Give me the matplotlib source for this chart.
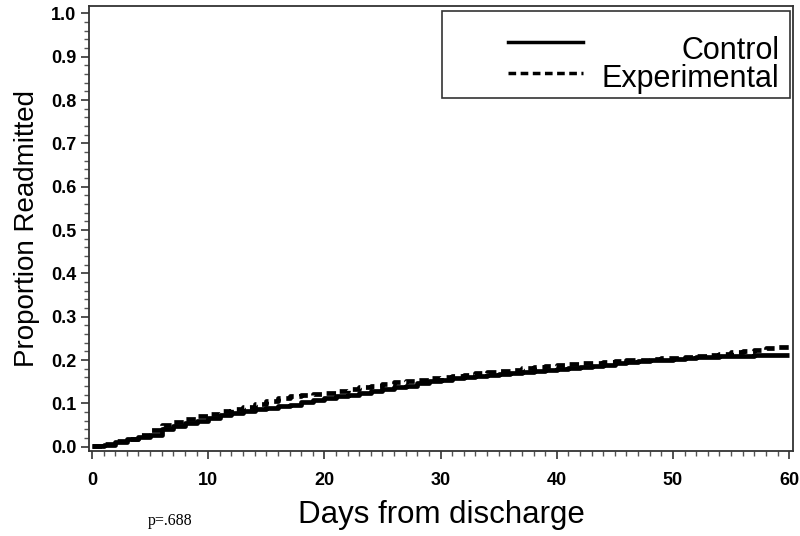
import matplotlib
matplotlib.use("Agg")
import matplotlib.pyplot as plt
from matplotlib.ticker import MultipleLocator, FormatStrFormatter
from matplotlib.patches import Rectangle
from matplotlib.lines import Line2D

days = list(range(0, 61))
control = [0.002, 0.005, 0.010, 0.017, 0.022, 0.028, 0.040, 0.048, 0.054, 0.060,
           0.067, 0.072, 0.077, 0.082, 0.086, 0.090, 0.093, 0.096, 0.102, 0.107,
           0.112, 0.116, 0.119, 0.123, 0.128, 0.133, 0.137, 0.141, 0.146, 0.151,
           0.155, 0.158, 0.160, 0.163, 0.166, 0.168, 0.171, 0.173, 0.175, 0.177,
           0.179, 0.181, 0.183, 0.186, 0.189, 0.192, 0.195, 0.197, 0.199, 0.201,
           0.203, 0.205, 0.207, 0.208, 0.209, 0.210, 0.210, 0.211, 0.211, 0.212,
           0.212]
experimental = [0.002, 0.006, 0.012, 0.018, 0.026, 0.038, 0.050, 0.058, 0.063, 0.070,
                0.076, 0.083, 0.088, 0.092, 0.098, 0.105, 0.112, 0.117, 0.120, 0.122,
                0.124, 0.128, 0.132, 0.137, 0.141, 0.145, 0.149, 0.152, 0.155, 0.158,
                0.160, 0.163, 0.166, 0.169, 0.172, 0.175, 0.178, 0.181, 0.184, 0.186,
                0.188, 0.190, 0.192, 0.194, 0.196, 0.198, 0.200, 0.201, 0.203, 0.204,
                0.205, 0.207, 0.209, 0.212, 0.215, 0.218, 0.221, 0.224, 0.227, 0.229,
                0.231]
series_labels = ["Control", "Experimental"]
p_text = "p=.688"
x_label = "Days from discharge"
y_label = "Proportion Readmitted"

plt.rcParams['font.family'] = ['Liberation Sans', 'DejaVu Sans']

fig = plt.figure(figsize=(8.0, 5.36), dpi=100)
ax = fig.add_axes([89/800, 1-451/536, 704/800, 445/536])

ax.step(days, control, where='post', color='black', lw=3.4, solid_capstyle='butt')
ax.step(days, experimental, where='post', color='black', lw=3.4, linestyle=(0, (2.0, 1.2)))

ax.set_xlim(-0.26, 60.33)
ax.set_ylim(-0.010, 1.017)
ax.xaxis.set_major_locator(MultipleLocator(10))
ax.xaxis.set_minor_locator(MultipleLocator(1))
ax.yaxis.set_major_locator(MultipleLocator(0.1))
ax.yaxis.set_minor_locator(MultipleLocator(0.02))
ax.yaxis.set_major_formatter(FormatStrFormatter('%.1f'))

for s in ax.spines.values():
    s.set_linewidth(1.3)
    s.set_color('#333333')

ax.tick_params(axis='both', which='major', direction='out', length=6, width=1.2,
               color='#333333', labelsize=13)
ax.tick_params(axis='both', which='minor', direction='out', length=3.5, width=1.0,
               color='#555555')
ax.tick_params(axis='x', which='major', pad=9)
ax.tick_params(axis='y', which='major', pad=3)
for lab in ax.get_xticklabels() + ax.get_yticklabels():
    lab.set_fontweight('bold')

ax.set_xlabel(x_label, fontsize=22.5, labelpad=8)
ax.set_ylabel(y_label, fontsize=20, labelpad=8)

# legend box (manual, right-aligned labels as in the original)
ax.add_patch(Rectangle((0.501, 0.793), 0.495, 0.196, transform=ax.transAxes,
                       fill=False, edgecolor='#333333', lw=1.2))
ax.add_line(Line2D([0.595, 0.702], [0.919, 0.919], transform=ax.transAxes,
                   color='black', lw=2.5))
ax.add_line(Line2D([0.595, 0.702], [0.849, 0.849], transform=ax.transAxes,
                   color='black', lw=2.5, linestyle=(0, (2.2, 1.3))))
ax.text(0.981, 0.818, "\n".join(series_labels), transform=ax.transAxes, ha='right',
        va='baseline', multialignment='right', fontsize=22, linespacing=0.93)

fig.text(148/800, 1-521/536, p_text, family='Liberation Serif', fontsize=11.5,
         ha='left', va='center')

fig.savefig("out.png", dpi=100)
